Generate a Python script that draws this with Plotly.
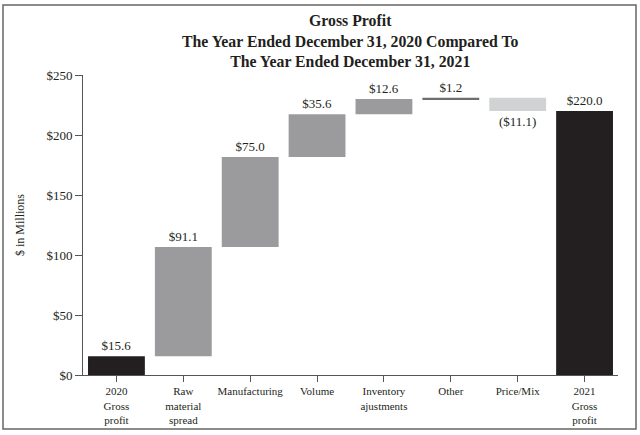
import plotly.graph_objects as go

categories = ["2020<br>Gross<br>profit", "Raw<br>material<br>spread", "Manufacturing", "Volume",
              "Inventory<br>ajustments", "Other", "Price/Mix", "2021<br>Gross<br>profit"]
values = [15.6, 91.1, 75.0, 35.6, 12.6, 1.2, -11.1, 220.0]
measures = ["total", "relative", "relative", "relative", "relative", "relative", "relative", "total"]
value_labels = ["$15.6", "$91.1", "$75.0", "$35.6", "$12.6", "$1.2", "($11.1)", "$220.0"]
bar_colors = ["#231f20", "#9b9b9d", "#9b9b9d", "#9b9b9d", "#9b9b9d", "#6d6e71", "#d1d2d4", "#231f20"]

y_ticks = [0, 50, 100, 150, 200, 250]

title_text = "<b>Gross Profit<br>The Year Ended December 31, 2020 Compared To<br>The Year Ended December 31, 2021</b>"
y_title = "$ in Millions"

# cumulative bases computed from the changes
bases = []
running = 0.0
for v, m in zip(values, measures):
    if m == "total":
        bases.append(0.0)
        running = v
    else:
        bases.append(running)
        running += v

FONT = "Liberation Serif, Times New Roman, serif"
TXT = "#231f20"

# plot-area geometry (pixels)
L, R, T, B = 83, 22, 75, 60
PW, PH = 640 - L - R, 435 - T - B


def px_x(px):
    return (px - L) / PW


def px_y(py):
    return (435 - B - py) / PH


x_pos = list(range(len(categories)))

fig = go.Figure()
fig.add_trace(go.Bar(
    x=x_pos, y=values, base=bases,
    marker=dict(color=bar_colors, line=dict(width=0)),
    width=0.85,
    text=value_labels, textposition="outside",
    textfont=dict(family=FONT, size=13, color=TXT),
    cliponaxis=False, hoverinfo="skip",
))

fig.update_layout(
    width=640, height=435,
    margin=dict(l=L, r=R, t=T, b=B, autoexpand=False),
    paper_bgcolor="white", plot_bgcolor="white",
    showlegend=False,
    font=dict(family=FONT, color=TXT),
    xaxis=dict(
        range=[-0.5, 7.5], tickvals=x_pos, ticktext=categories,
        ticks="outside", ticklen=6, tickcolor="#555", tickwidth=1,
        showline=True, linecolor="#555", linewidth=1,
        showgrid=False, zeroline=False, automargin=False,
        tickfont=dict(family=FONT, size=11, color=TXT),
    ),
    yaxis=dict(
        range=[0, 250], tickvals=y_ticks,
        ticktext=["$" + str(t) for t in y_ticks],
        ticks="outside", ticklen=7, tickcolor="#555", tickwidth=1,
        showline=True, linecolor="#555", linewidth=1,
        showgrid=False, zeroline=False, automargin=False,
        tickfont=dict(family=FONT, size=13, color=TXT),
    ),
    annotations=[
        dict(text=title_text, xref="paper", yref="paper", x=0.5, y=px_y(41),
             xanchor="center", yanchor="middle", showarrow=False, align="center",
             font=dict(family=FONT, size=15.8, color=TXT)),
        dict(text=y_title, xref="paper", yref="paper", x=px_x(20), y=0.5,
             xanchor="center", yanchor="middle", showarrow=False, textangle=-90,
             font=dict(family=FONT, size=12, color=TXT)),
    ],
    shapes=[dict(
        type="rect", xref="paper", yref="paper",
        x0=px_x(3), x1=px_x(636),
        y0=px_y(429), y1=px_y(5),
        line=dict(color="#666", width=1.5), fillcolor="rgba(0,0,0,0)",
        layer="below",
    )],
)

fig.write_html("out.html", config={"displayModeBar": False},
               post_script="document.body.style.margin='0';document.body.style.padding='0';")
